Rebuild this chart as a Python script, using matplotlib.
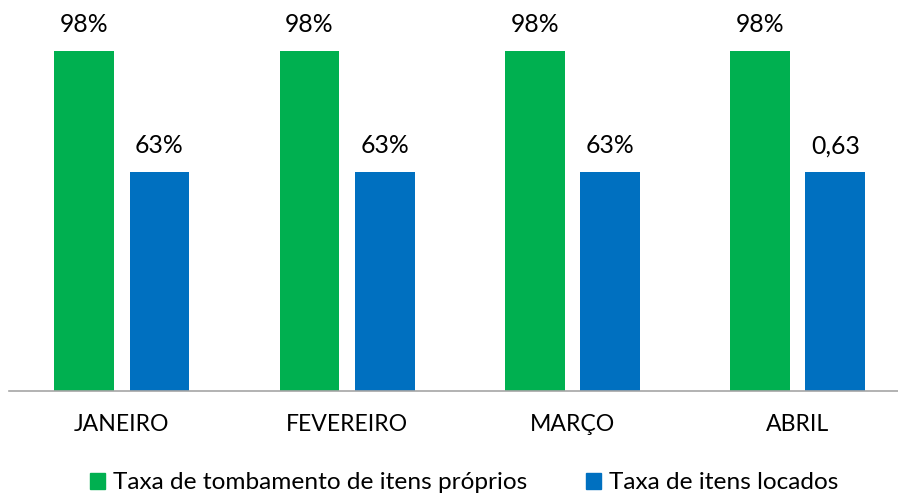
import matplotlib
matplotlib.use("Agg")
import matplotlib.pyplot as plt
from matplotlib.patches import Patch
import numpy as np

categories = ["JANEIRO", "FEVEREIRO", "MARÇO", "ABRIL"]
proprios = [0.98, 0.98, 0.98, 0.98]
locados = [0.63, 0.63, 0.63, 0.63]
labels_proprios = ["98%", "98%", "98%", "98%"]
labels_locados = ["63%", "63%", "63%", "0,63"]
series_names = ["Taxa de tombamento de itens próprios", "Taxa de itens locados"]

GREEN = "#00B050"
BLUE = "#0070C0"

plt.rcParams['font.family'] = ['Lato', 'DejaVu Sans']

fig = plt.figure(figsize=(8.98, 4.93), dpi=100)
W, H = 898, 493
left = 9.2 / W
right = 910.4 / W
bottom = (H - 390.5) / H
height = 381.4 / H
ax = fig.add_axes([left, bottom, right - left, height])

x = np.arange(len(categories))
bw = 0.266
off = 0.167
b1 = ax.bar(x - off, proprios, bw, color=GREEN)
b2 = ax.bar(x + off, locados, bw, color=BLUE)

for rect, lab in zip(b1, labels_proprios):
    ax.annotate(lab, (rect.get_x() + rect.get_width() / 2, rect.get_height()),
                xytext=(0, 13.5), textcoords="offset points",
                ha="center", va="baseline", fontsize=17.8, color="#000000")
for rect, lab in zip(b2, labels_locados):
    ax.annotate(lab, (rect.get_x() + rect.get_width() / 2, rect.get_height()),
                xytext=(0, 13.5), textcoords="offset points",
                ha="center", va="baseline", fontsize=17.8, color="#000000")

ax.set_xlim(-0.5, len(categories) - 0.5)
ax.set_ylim(0, 1.1)
ax.set_xticks(x)
ax.set_xticklabels(categories, fontsize=16.6)
ax.tick_params(axis="x", length=0, pad=17)
ax.set_yticks([])
for s in ["top", "right", "left"]:
    ax.spines[s].set_visible(False)
ax.spines["bottom"].set_color("#A6A6A6")
ax.spines["bottom"].set_linewidth(1.2)

handles = [Patch(color=GREEN), Patch(color=BLUE)]
fig.legend(handles, series_names, loc="lower center", ncol=2, frameon=False,
           fontsize=17.6, handlelength=0.62, handleheight=0.62,
           handletextpad=0.33, columnspacing=2.4,
           bbox_to_anchor=(0.517, -0.045))

fig.savefig("out.png", dpi=100)
